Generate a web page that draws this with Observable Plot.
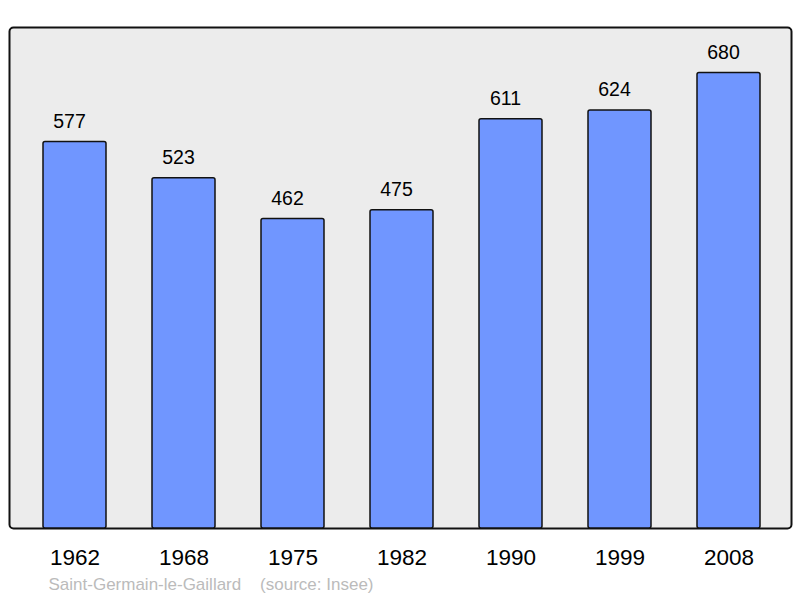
<!DOCTYPE html>
<html>
<head>
<meta charset="utf-8">
<script src="https://cdn.jsdelivr.net/npm/d3@7"></script>
<script src="https://cdn.jsdelivr.net/npm/@observablehq/plot@0.6"></script>
<style>
  html, body { margin: 0; padding: 0; background: #ffffff; }
  #wrap { position: relative; width: 800px; height: 598px; font-family: "Liberation Sans", Arial, sans-serif; }
  #caption { position: absolute; left: 48.5px; top: 575px; font-size: 17px; color: #bbbbbb; white-space: pre; font-family: "Liberation Sans", Arial, sans-serif; }
</style>
</head>
<body>
<div id="wrap"></div>
<script>
const years = ["1962", "1968", "1975", "1982", "1990", "1999", "2008"];
const population = [577, 523, 462, 475, 611, 624, 680];
const captionPlace = "Saint-Germain-le-Gaillard";
const captionSource = "(source: Insee)";

const data = years.map((y, i) => ({year: y, value: population[i]}));

const chart = Plot.plot({
  width: 800,
  height: 570,
  marginTop: 27,
  marginBottom: 42,
  marginLeft: 9,
  marginRight: 9,
  style: {fontFamily: "'Liberation Sans', Arial, sans-serif", background: "transparent"},
  x: {domain: years, range: [18.0, 784.8], paddingInner: 0.421, paddingOuter: 0.2105, axis: null},
  y: {domain: [0, 748], axis: null},
  marks: [
    Plot.frame({fill: "#ececec", stroke: "#111", strokeWidth: 2, rx: 4}),
    Plot.barY(data, {x: "year", y: "value", fill: "#7096ff", stroke: "#111", strokeWidth: 1.5, rx: 2}),
    Plot.text(data, {x: "year", y: "value", text: d => String(d.value), lineAnchor: "middle", dy: -20.6, dx: -5.5, fontSize: 19.5, fill: "#000"}),
    Plot.axisX({domain: years, tickSize: 0, tickPadding: 21, fontSize: 22.5, fill: "#000", label: null})
  ]
});
const wrap = document.getElementById("wrap");
wrap.appendChild(chart);
const cap = document.createElement("div");
cap.id = "caption";
cap.textContent = captionPlace + "    " + captionSource;
wrap.appendChild(cap);
</script>
</body>
</html>
